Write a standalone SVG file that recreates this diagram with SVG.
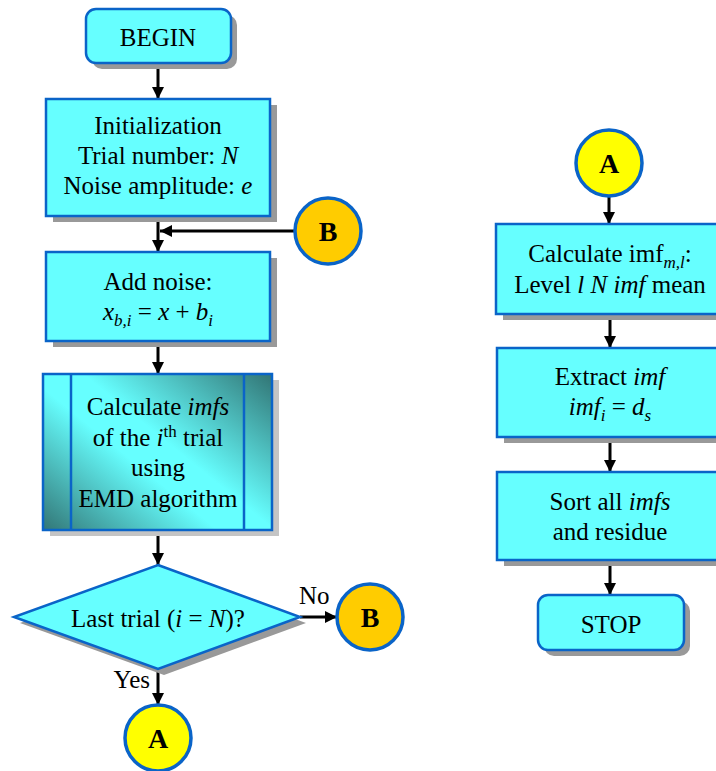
<svg xmlns="http://www.w3.org/2000/svg" width="716" height="771" viewBox="0 0 716 771">
<defs>
<style>
.box{fill:#66ffff;stroke:#0a64c8;stroke-width:2.5}
.sh{fill:#999999}
.t{font-family:"Liberation Serif","Times New Roman",serif;font-size:25px;fill:#000;text-anchor:middle}
.lbl{font-family:"Liberation Serif","Times New Roman",serif;font-size:25px;fill:#000}
.c{font-family:"Liberation Serif","Times New Roman",serif;font-size:28px;font-weight:bold;fill:#000;text-anchor:middle}
.i{font-style:italic}
.s{font-size:17px}
.ca{fill:#ffff00;stroke:#0a64c8;stroke-width:3.5}
.cb{fill:#ffcc00;stroke:#0a64c8;stroke-width:3.5}
.ln{fill:none;stroke:#000;stroke-width:3;marker-end:url(#ah)}
</style>
<marker id="ah" viewBox="0 0 10 10" refX="10" refY="5" markerWidth="4" markerHeight="4" orient="auto" markerUnits="strokeWidth">
<path d="M0,0 L10,5 L0,10 z" fill="#000"/>
</marker>
<linearGradient id="gr" gradientUnits="userSpaceOnUse" x1="70" y1="560" x2="245" y2="345">
<stop offset="0" stop-color="#2f6e6e"/>
<stop offset="0.42" stop-color="#66ffff"/>
<stop offset="0.55" stop-color="#66ffff"/>
<stop offset="1" stop-color="#2f6e6e"/>
</linearGradient>
</defs>

<g id="connectors">
<line class="ln" x1="158" y1="63" x2="158" y2="99"/>
<line class="ln" x1="158" y1="216" x2="158" y2="252"/>
<line class="ln" x1="295" y1="231" x2="160" y2="231"/>
<line class="ln" x1="158" y1="341" x2="158" y2="374"/>
<line class="ln" x1="158" y1="530" x2="158" y2="565"/>
<line class="ln" x1="300" y1="617" x2="337" y2="617"/>
<line class="ln" x1="158" y1="669" x2="158" y2="705"/>
<line class="ln" x1="609" y1="196" x2="609" y2="224"/>
<line class="ln" x1="610" y1="314" x2="610" y2="348"/>
<line class="ln" x1="610" y1="437" x2="610" y2="472"/>
<line class="ln" x1="610" y1="560" x2="610" y2="595"/>
<text class="lbl" x="299" y="604">No</text>
<text class="lbl" x="150" y="688" text-anchor="end">Yes</text>
</g>

<g id="begin">
<rect class="sh" x="92" y="15" width="145" height="54" rx="10"/>
<rect class="box" x="86" y="9" width="145" height="54" rx="10"/>
<text class="t" x="158" y="46">BEGIN</text>
</g>

<g id="init">
<rect class="sh" x="53" y="105" width="224" height="117"/>
<rect class="box" x="46" y="99" width="224" height="117"/>
<text class="t" x="158" y="134">Initialization</text>
<text class="t" x="158" y="164">Trial number: <tspan class="i">N</tspan></text>
<text class="t" x="158" y="194">Noise amplitude: <tspan class="i">e</tspan></text>
</g>

<g id="addnoise">
<rect class="sh" x="53" y="258" width="224" height="89"/>
<rect class="box" x="46" y="252" width="224" height="89"/>
<text class="t" x="158" y="290">Add noise:</text>
<text class="t" x="158" y="320"><tspan class="i">x</tspan><tspan class="i s" dy="6">b,i</tspan><tspan dy="-6"> = </tspan><tspan class="i">x</tspan> + <tspan class="i">b</tspan><tspan class="i s" dy="6">i</tspan></text>
</g>

<g id="calcimfs">
<rect x="50" y="380" width="229" height="156" fill="#c4c4c4"/>
<rect class="box" x="43" y="374" width="229" height="156" style="fill:url(#gr)"/>
<line x1="71" y1="374" x2="71" y2="530" stroke="#0a64c8" stroke-width="2.5"/>
<line x1="244" y1="374" x2="244" y2="530" stroke="#0a64c8" stroke-width="2.5"/>
<text class="t" x="158" y="415">Calculate <tspan class="i">imfs</tspan></text>
<text class="t" x="158" y="446">of the <tspan class="i">i</tspan><tspan class="s" dy="-9">th</tspan><tspan dy="9"> trial</tspan></text>
<text class="t" x="158" y="476">using</text>
<text class="t" x="158" y="507">EMD algorithm</text>
</g>

<g id="decision">
<polygon class="sh" points="164,571 306,623 164,675 20,623"/>
<polygon class="box" points="158,565 300,617 158,669 14,617"/>
<text class="t" x="158" y="627">Last trial (<tspan class="i">i</tspan> = <tspan class="i">N</tspan>)?</text>
</g>

<g id="b-top">
<circle class="cb" cx="328" cy="231" r="33"/>
<text class="c" x="328" y="241">B</text>
</g>

<g id="b-bottom">
<circle class="cb" cx="370" cy="617" r="33"/>
<text class="c" x="370" y="627">B</text>
</g>

<g id="a-bottom">
<circle class="ca" cx="158" cy="738" r="33"/>
<text class="c" x="158" y="748">A</text>
</g>

<g id="a-top">
<circle class="ca" cx="609" cy="163" r="33"/>
<text class="c" x="609" y="173">A</text>
</g>

<g id="calcimf">
<rect class="sh" x="503" y="230" width="228" height="90"/>
<rect class="box" x="496" y="224" width="228" height="90"/>
<text class="t" x="610" y="262">Calculate imf<tspan class="i s" dy="6">m,l</tspan><tspan dy="-6">:</tspan></text>
<text class="t" x="610" y="293">Level <tspan class="i">l</tspan> <tspan class="i">N</tspan> <tspan class="i">imf</tspan> mean</text>
</g>

<g id="extract">
<rect class="sh" x="504" y="354" width="227" height="89"/>
<rect class="box" x="497" y="348" width="227" height="89"/>
<text class="t" x="610" y="385">Extract <tspan class="i">imf</tspan></text>
<text class="t" x="610" y="415"><tspan class="i">imf</tspan><tspan class="i s" dy="6">i</tspan><tspan dy="-6"> = </tspan><tspan class="i">d</tspan><tspan class="i s" dy="6">s</tspan></text>
</g>

<g id="sort">
<rect class="sh" x="504" y="478" width="227" height="88"/>
<rect class="box" x="497" y="472" width="227" height="88"/>
<text class="t" x="610" y="510">Sort all <tspan class="i">imfs</tspan></text>
<text class="t" x="610" y="540">and residue</text>
</g>

<g id="stop">
<rect class="sh" x="544" y="601" width="146" height="55" rx="10"/>
<rect class="box" x="538" y="595" width="146" height="55" rx="10"/>
<text class="t" x="611" y="633">STOP</text>
</g>
</svg>
